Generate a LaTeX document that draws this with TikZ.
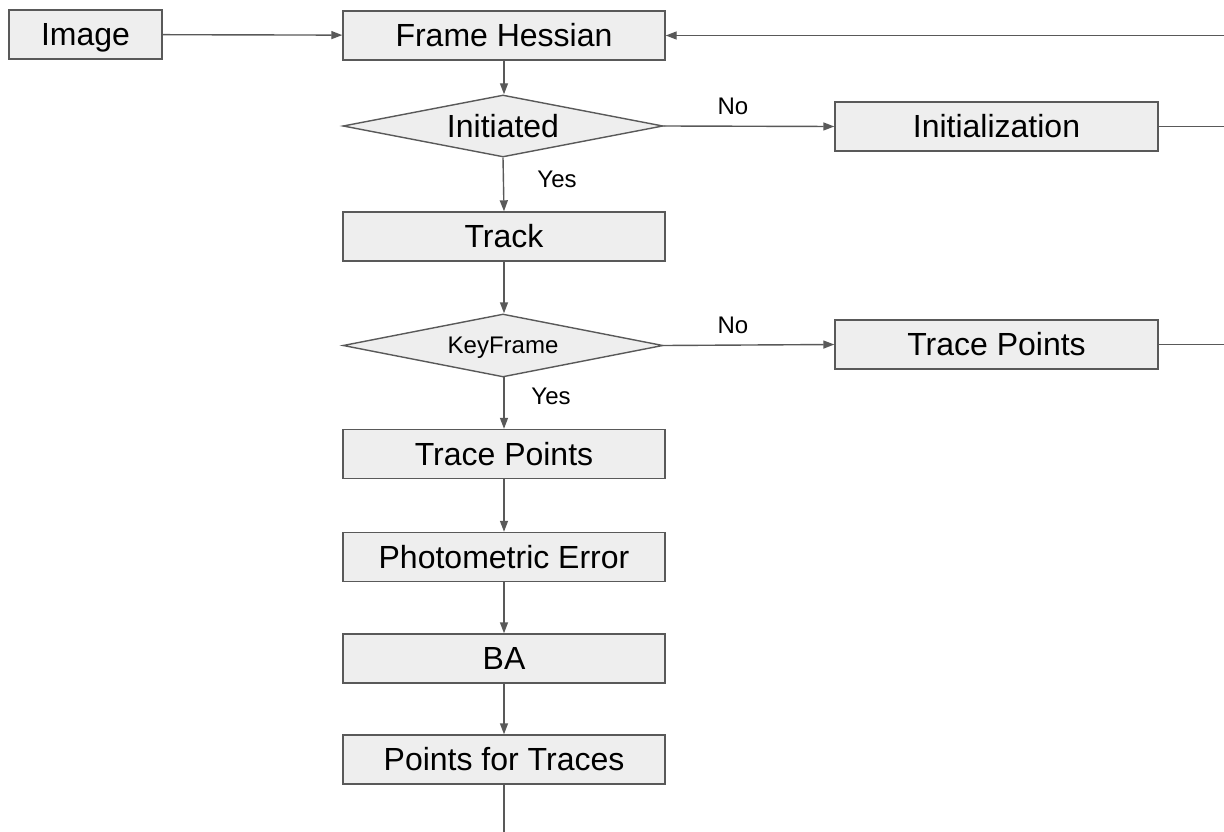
\documentclass[tikz,border=0pt]{standalone}
\usepackage{fontspec}
\setmainfont{Liberation Sans}
\usetikzlibrary{shapes.geometric,arrows.meta}
\definecolor{edgegray}{RGB}{89,89,89}
\definecolor{boxfill}{RGB}{238,238,238}
\tikzset{
  bigtext/.style={font=\fontsize{32}{32}\selectfont, text height=28.8pt, text depth=6.4pt},
  smalltext/.style={font=\fontsize{24}{24}\selectfont, text height=21.6pt, text depth=4.8pt},
  procbox/.style={draw=edgegray, fill=boxfill, line width=1.4pt, inner sep=0pt,
    minimum width=322pt, minimum height=49pt, bigtext, text=black},
  decbox/.style={diamond, draw=edgegray, fill=boxfill, line width=1.4pt, inner sep=0pt,
    aspect=5, minimum width=320pt, minimum height=62pt, text=black},
  conn/.style={draw=edgegray, line width=1.4pt, -{Triangle[length=11pt,width=8pt]}},
  plainconn/.style={draw=edgegray, line width=1.4pt},
  lbl/.style={smalltext, text=black, inner sep=0pt}
}
\begin{document}
\begin{tikzpicture}[x=1pt,y=-1pt]
\useasboundingbox (0,0) rectangle (1224,832);
\node[procbox, minimum width=153pt] (img) at (85.5,34.5) {Image};
\node[procbox] (fh) at (504,35.5) {Frame Hessian};
\node[decbox, bigtext] (init) at (503,126) {Initiated};
\node[procbox, minimum width=323pt] (initz) at (996.5,126.5) {Initialization};
\node[procbox] (track) at (504,236.5) {Track};
\node[decbox, minimum height=63pt, smalltext] (kf) at (503,345.5) {KeyFrame};
\node[procbox, minimum width=323pt] (tpr) at (996.5,344.5) {Trace Points};
\node[procbox] (tp) at (504,454) {Trace Points};
\node[procbox] (pe) at (504,557) {Photometric Error};
\node[procbox] (ba) at (504,658.5) {BA};
\node[procbox] (pft) at (504,759.5) {Points for Traces};

\coordinate (rtop) at (1224,35.5);
\coordinate (rinit) at (1224,126.5);
\coordinate (rtp) at (1224,344.5);
\coordinate (bot) at (504,832);

\draw[conn] (img) -- (fh);
\draw[conn] (rtop) -- (fh.east);
\draw[plainconn] (initz.east) -- (rinit);
\draw[plainconn] (tpr.east) -- (rtp);
\draw[conn] (fh.south) -- (fh.south |- init.north);
\draw[conn] (init.east) -- (initz.west);
\draw[conn] (init.south) -- (track.north);
\draw[conn] (track.south) -- (track.south |- kf.north);
\draw[conn] (kf.east) -- (tpr.west);
\draw[conn] (kf.south) -- (kf.south -| tp.north) -- (tp.north);
\draw[conn] (tp) -- (pe);
\draw[conn] (pe) -- (ba);
\draw[conn] (ba) -- (pft);
\draw[plainconn] (pft.south) -- (bot);

\node[lbl] (no1) at (733,106) {No};
\node[lbl] (yes1) at (557,179) {Yes};
\node[lbl] (no2) at (733,325) {No};
\node[lbl] (yes2) at (551,396) {Yes};
\end{tikzpicture}
\end{document}
